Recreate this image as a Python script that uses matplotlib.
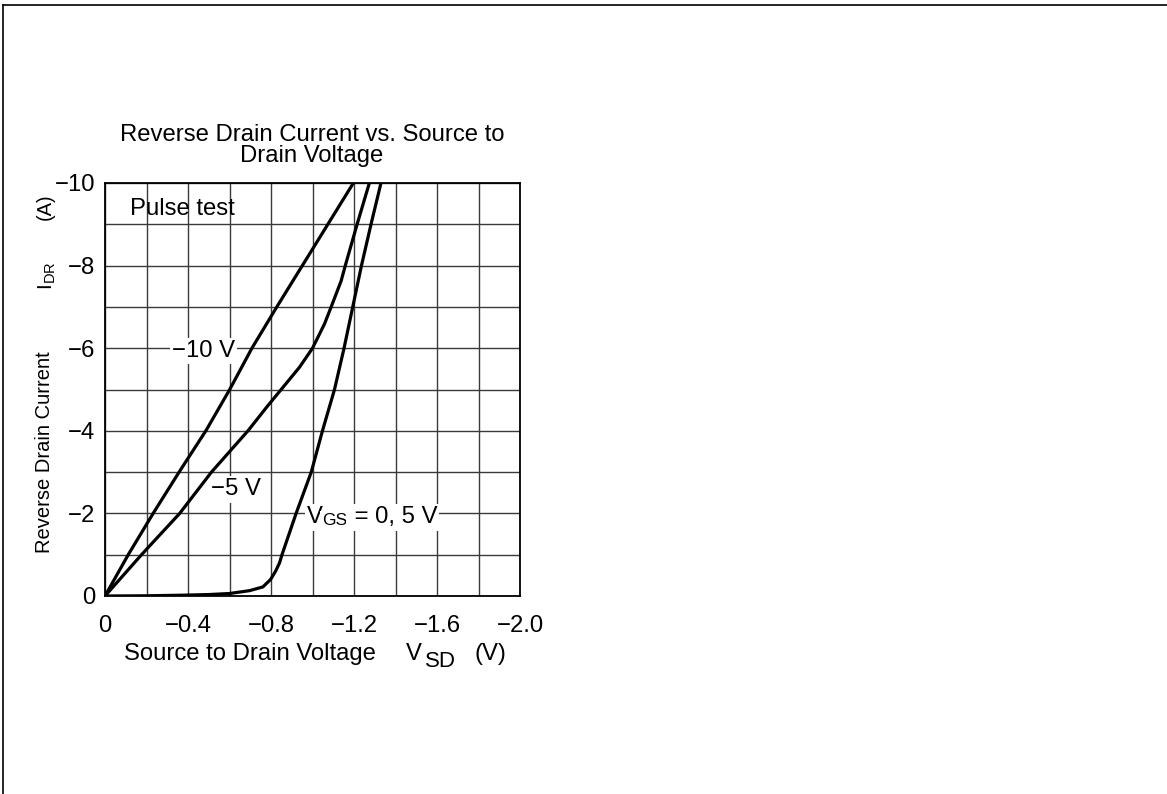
import matplotlib
matplotlib.use('Agg')
import matplotlib.pyplot as plt
from matplotlib.lines import Line2D
from matplotlib.ticker import MultipleLocator, FixedLocator, FixedFormatter

plt.rcParams['font.family'] = ['Liberation Sans', 'DejaVu Sans']
plt.rcParams['mathtext.fontset'] = 'custom'
plt.rcParams['mathtext.rm'] = 'Liberation Sans'

# ---------------- data ----------------
vsd_m10 = [0, -0.112, -0.232, -0.357, -0.486, -0.601, -0.708, -0.828, -0.951, -1.074, -1.197]
idr_m10 = [0, -1, -2, -3, -4, -5, -6, -7, -8, -9, -10]

vsd_m5 = [0, -0.176, -0.36, -0.513, -0.689, -0.785, -0.849, -0.9375, -1.0, -1.058, -1.09,
          -1.138, -1.158, -1.215, -1.274]
idr_m5 = [0, -1, -2, -3, -4, -4.61, -5, -5.54, -6, -6.59, -7,
          -7.63, -8, -9, -10]

vsd_0 = [0, -0.2, -0.377, -0.5, -0.6, -0.697, -0.761, -0.798, -0.822, -0.841, -0.853,
         -0.921, -0.994, -1.048, -1.106, -1.152, -1.194, -1.236, -1.282, -1.33]
idr_0 = [0, -0.005, -0.02, -0.035, -0.06, -0.13, -0.22, -0.40, -0.6, -0.8, -1.0,
         -2, -3, -4, -5, -6, -7, -8, -9, -10]

x_ticks = [0, -0.4, -0.8, -1.2, -1.6, -2.0]
x_tick_labels = ['0', '\u22120.4', '\u22120.8', '\u22121.2', '\u22121.6', '\u22122.0']
y_ticks = [0, -2, -4, -6, -8, -10]
y_tick_labels = ['0', '\u22122', '\u22124', '\u22126', '\u22128', '\u221210']

title_text = 'Reverse Drain Current vs. Source to\nDrain Voltage'

# ---------------- figure ----------------
W, H = 1167, 794
FS = 17.2
fig = plt.figure(figsize=(W / 100, H / 100), dpi=100)
fig.patch.set_facecolor('white')


def px(x, y):
    return x / W, 1 - y / H


ax = fig.add_axes([105 / W, 1 - 596 / H, 415 / W, 413 / H])
ax.set_xlim(0, -2.0)
ax.set_ylim(0, -10)

ax.xaxis.set_major_locator(FixedLocator(x_ticks))
ax.xaxis.set_major_formatter(FixedFormatter(x_tick_labels))
ax.xaxis.set_minor_locator(MultipleLocator(0.2))
ax.yaxis.set_major_locator(FixedLocator(y_ticks))
ax.yaxis.set_major_formatter(FixedFormatter(y_tick_labels))
ax.yaxis.set_minor_locator(MultipleLocator(1))

ax.grid(True, which='both', color='#3a3a3a', linewidth=1.0)
ax.set_axisbelow(True)
ax.tick_params(which='both', length=0)
ax.tick_params(axis='x', pad=14, labelsize=FS)
ax.tick_params(axis='y', pad=7, labelsize=FS)
for s in ax.spines.values():
    s.set_linewidth(1.3)
    s.set_color('black')

for v, i in [(vsd_m10, idr_m10), (vsd_m5, idr_m5), (vsd_0, idr_0)]:
    ax.plot(v, i, color='black', linewidth=2.3, solid_joinstyle='round', zorder=4)

# title
fig.text(*px(312, 162), title_text, ha='center', va='baseline', fontsize=FS,
         linespacing=0.92)

# annotations
box = dict(facecolor='white', edgecolor='none', pad=1.5)
ax.text(-0.12, -9.23, 'Pulse test', ha='left', va='baseline', fontsize=FS)
ax.text(-0.475, -5.93, '\u221210 V', ha='center', va='center', fontsize=FS,
        bbox=box, zorder=3)
ax.text(-0.633, -2.58, '\u22125 V', ha='center', va='center', fontsize=FS,
        bbox=box, zorder=3)
t1 = ax.text(-0.972, -1.756, 'V', ha='left', va='baseline', fontsize=FS,
             bbox=box, zorder=3)
t2 = ax.annotate('GS', xy=(1, 0), xycoords=t1, ha='left', va='bottom',
                 fontsize=12.5, bbox=box, zorder=3)
t3 = ax.annotate(' = 0, 5 V', xy=(1, 0), xycoords=t2, ha='left', va='bottom',
                 fontsize=FS, bbox=box, zorder=3)

# x label pieces
fig.text(*px(124, 660), 'Source to Drain Voltage', ha='left', va='baseline', fontsize=FS)
fig.text(*px(406, 660), 'V', ha='left', va='baseline', fontsize=FS)
fig.text(*px(425, 667), 'SD', ha='left', va='baseline', fontsize=16)
fig.text(*px(475, 660), '(V)', ha='left', va='baseline', fontsize=FS)

# y label pieces
fig.text(*px(45, 452.5), 'Reverse Drain Current', rotation=90, ha='center', va='center',
         fontsize=14.5)
fig.text(*px(47, 275.5), r'I$_{\mathregular{DR}}$', rotation=90, ha='center', va='center',
         fontsize=15)
fig.text(*px(45, 206.5), '(A)', rotation=90, ha='center', va='center', fontsize=14.5)

# page border (top and left)
fig.add_artist(Line2D([3 / W, 1], [1 - 5 / H, 1 - 5 / H], color='black', linewidth=1.2,
                      transform=fig.transFigure))
fig.add_artist(Line2D([3 / W, 3 / W], [0, 1 - 5 / H], color='black', linewidth=1.2,
                      transform=fig.transFigure))

fig.savefig('out.png', dpi=100, facecolor='white')
